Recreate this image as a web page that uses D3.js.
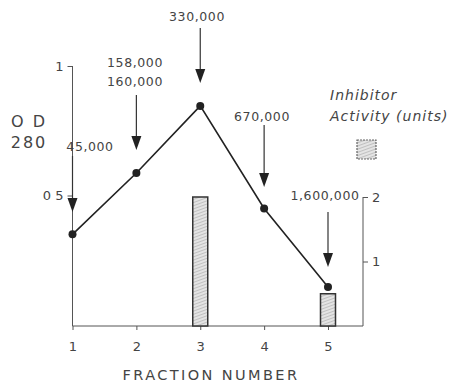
<!DOCTYPE html>
<html>
<head>
<meta charset="utf-8">
<script src="https://cdn.jsdelivr.net/npm/d3@7"></script>
<style>
  html, body { margin: 0; padding: 0; background: #fff; }
  svg { display: block; }
  text { font-family: "DejaVu Sans", sans-serif; fill: #444; }
</style>
</head>
<body>
<script>
// Fractions and measured values
const fractions = [1, 2, 3, 4, 5];
const od280 = [0.35, 0.587, 0.846, 0.45, 0.147];
const inhibitorActivity = [0, 0, 2, 0, 0.5];
const molWeightLabels = [["45,000"], ["158,000", "160,000"], ["330,000"], ["670,000"], ["1,600,000"]];
const odTicks = [0.5, 1];
const odTickLabels = ["0 5", "1"];
const activityTicks = [1, 2];

const W = 451, H = 384;
const svg = d3.select("body").append("svg").attr("width", W).attr("height", H);

const x = d3.scaleLinear().domain([1, 5]).range([72.5, 328]);
const yOD = d3.scaleLinear().domain([0, 1]).range([325, 66]);
const yAct = d3.scaleLinear().domain([0, 2]).range([326, 197]);

// Hatched fill for activity bars
const defs = svg.append("defs");
const pat = defs.append("pattern").attr("id", "hatch").attr("patternUnits", "userSpaceOnUse")
  .attr("width", 3).attr("height", 3).attr("patternTransform", "rotate(-20)");
pat.append("rect").attr("width", 3).attr("height", 3).attr("fill", "#e4e4e4");
pat.append("line").attr("x1", 0).attr("y1", 1.5).attr("x2", 3).attr("y2", 1.5)
  .attr("stroke", "#b8b8b8").attr("stroke-width", 0.8);

const axisColor = "#555";

// Bottom axis
const xAxis = svg.append("g").attr("transform", `translate(0,326)`)
  .call(d3.axisBottom(x).tickValues(fractions).tickFormat(d3.format("d")).tickSize(4).tickPadding(12));
xAxis.select(".domain").attr("d", `M${x(1)},0H363`).attr("stroke", axisColor);
xAxis.selectAll(".tick line").attr("stroke", axisColor);
xAxis.selectAll(".tick text").style("font-size", "13px").attr("fill", "#444");

// Left OD axis
const yAxisL = svg.append("g").attr("transform", `translate(${x(1)},0)`)
  .call(d3.axisLeft(yOD).tickValues(odTicks).tickFormat((d, i) => odTickLabels[i]).tickSize(5).tickPadding(4));
yAxisL.select(".domain").attr("d", `M0,${yOD(1)}V326`).attr("stroke", axisColor);
yAxisL.selectAll(".tick line").attr("stroke", axisColor);
yAxisL.selectAll(".tick text").style("font-size", "13px").attr("fill", "#444");

// Right activity axis
const yAxisR = svg.append("g").attr("transform", `translate(363,0)`)
  .call(d3.axisRight(yAct).tickValues(activityTicks).tickFormat(d3.format("d")).tickSize(5).tickPadding(4));
yAxisR.select(".domain").attr("d", `M0,${yAct(2)}V326`).attr("stroke", axisColor);
yAxisR.selectAll(".tick line").attr("stroke", axisColor);
yAxisR.selectAll(".tick text").style("font-size", "13px").attr("fill", "#444");

// Activity bars
const barW = 15;
svg.append("g").selectAll("rect")
  .data(fractions.map((f, i) => ({ f, v: inhibitorActivity[i] })).filter(d => d.v > 0))
  .join("rect")
  .attr("x", d => x(d.f) - barW / 2)
  .attr("y", d => yAct(d.v))
  .attr("width", barW)
  .attr("height", d => yAct(0) - yAct(d.v))
  .attr("fill", "url(#hatch)")
  .attr("stroke", "#333").attr("stroke-width", 1.5);

// OD280 line and points
const pts = fractions.map((f, i) => ({ f, v: od280[i] }));
svg.append("path").datum(pts)
  .attr("d", d3.line().x(d => x(d.f)).y(d => yOD(d.v)))
  .attr("fill", "none").attr("stroke", "#222").attr("stroke-width", 1.6);
svg.append("g").selectAll("circle").data(pts).join("circle")
  .attr("cx", d => x(d.f)).attr("cy", d => yOD(d.v)).attr("r", 4).attr("fill", "#222");

// Molecular-weight arrows
const arrowSpecs = [
  { top: 156, tip: 212, labelY: 146, labelX: 90 },
  { top: 95, tip: 150, labelY: 62, labelX: 135 },
  { top: 28, tip: 83, labelY: 16, labelX: 197 },
  { top: 125, tip: 187, labelY: 116, labelX: 262 },
  { top: 212, tip: 267, labelY: 195, labelX: 325 }
];
const arrows = svg.append("g");
fractions.forEach((f, i) => {
  const s = arrowSpecs[i];
  arrows.append("line")
    .attr("x1", x(f)).attr("x2", x(f)).attr("y1", s.top).attr("y2", s.tip - 14)
    .attr("stroke", "#333").attr("stroke-width", 1.2);
  arrows.append("path")
    .attr("d", `M${x(f) - 5},${s.tip - 14}L${x(f) + 5},${s.tip - 14}L${x(f)},${s.tip}Z`)
    .attr("fill", "#222");
  molWeightLabels[i].forEach((t, j) => {
    arrows.append("text")
      .attr("x", s.labelX).attr("y", s.labelY + j * 19)
      .attr("text-anchor", "middle").attr("dominant-baseline", "central")
      .style("font-size", "12.5px").style("letter-spacing", "0.6px")
      .text(t);
  });
});

// Left axis title
svg.append("text").attr("x", 29).attr("y", 121).attr("text-anchor", "middle")
  .attr("dominant-baseline", "central").style("font-size", "16px").style("letter-spacing", "2px").text("O D");
svg.append("text").attr("x", 29).attr("y", 142).attr("text-anchor", "middle")
  .attr("dominant-baseline", "central").style("font-size", "16px").style("letter-spacing", "2px").text("280");

// Bottom axis title
svg.append("text").attr("x", 211).attr("y", 375).attr("text-anchor", "middle")
  .attr("dominant-baseline", "central").style("font-size", "14.5px").style("letter-spacing", "2.4px")
  .text("FRACTION NUMBER");

// Legend
svg.append("text").attr("x", 330).attr("y", 95).attr("dominant-baseline", "central")
  .style("font-size", "14px").style("font-style", "italic").style("letter-spacing", "1px").text("Inhibitor");
svg.append("text").attr("x", 330).attr("y", 116).attr("dominant-baseline", "central")
  .style("font-size", "14px").style("font-style", "italic").style("letter-spacing", "1px").text("Activity (units)");
svg.append("rect").attr("x", 357).attr("y", 140).attr("width", 19).attr("height", 19)
  .attr("fill", "url(#hatch)").attr("stroke", "#666").attr("stroke-width", 1.2)
  .attr("stroke-dasharray", "2,1");
</script>
</body>
</html>
